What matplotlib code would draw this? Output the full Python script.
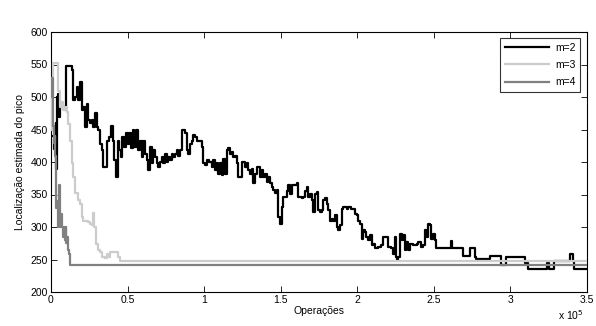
import numpy as np
import matplotlib
matplotlib.use("Agg")
import matplotlib.pyplot as plt

# x in units of 1e5 operations, y = estimated peak location
m2_x = [0.000, 0.020, 0.030, 0.035, 0.040, 0.045, 0.050, 0.060, 0.070, 0.091, 0.098, 0.124, 0.135,
        0.146, 0.157, 0.168, 0.179, 0.189, 0.200, 0.211, 0.222, 0.233, 0.244, 0.255, 0.266, 0.276,
        0.287, 0.298, 0.309, 0.320, 0.331, 0.342, 0.357, 0.368, 0.381, 0.392, 0.403, 0.414, 0.424,
        0.435, 0.446, 0.457, 0.466, 0.477, 0.490, 0.501, 0.512, 0.522, 0.533, 0.544, 0.555, 0.566,
        0.581, 0.592, 0.603, 0.614, 0.625, 0.636, 0.647, 0.657, 0.668, 0.679, 0.690, 0.701, 0.712,
        0.723, 0.734, 0.744, 0.755, 0.766, 0.777, 0.788, 0.799, 0.810, 0.821, 0.831, 0.842, 0.853,
        0.864, 0.875, 0.886, 0.897, 0.908, 0.918, 0.929, 0.940, 0.951, 0.968, 0.984, 0.990, 1.006,
        1.016, 1.034, 1.049, 1.060, 1.071, 1.082, 1.093, 1.104, 1.114, 1.125, 1.136, 1.147, 1.158,
        1.169, 1.180, 1.191, 1.201, 1.212, 1.223, 1.234, 1.245, 1.256, 1.267, 1.277, 1.288, 1.299,
        1.310, 1.321, 1.332, 1.343, 1.353, 1.364, 1.375, 1.386, 1.397, 1.408, 1.419, 1.430, 1.440,
        1.451, 1.462, 1.473, 1.484, 1.495, 1.506, 1.517, 1.539, 1.550, 1.560, 1.571, 1.593, 1.604,
        1.615, 1.636, 1.647, 1.658, 1.669, 1.680, 1.691, 1.702, 1.713, 1.724, 1.734, 1.745, 1.756,
        1.767, 1.778, 1.789, 1.800, 1.810, 1.821, 1.832, 1.843, 1.854, 1.865, 1.876, 1.886, 1.897,
        1.908, 1.930, 1.941, 1.962, 1.973, 1.984, 1.995, 2.006, 2.017, 2.028, 2.039, 2.049, 2.060,
        2.071, 2.082, 2.093, 2.104, 2.114, 2.136, 2.158, 2.169, 2.191, 2.202, 2.223, 2.234, 2.245,
        2.252, 2.260, 2.267, 2.278, 2.289, 2.300, 2.311, 2.321, 2.332, 2.343, 2.365, 2.387, 2.397,
        2.419, 2.430, 2.441, 2.452, 2.463, 2.474, 2.484, 2.495, 2.506, 2.517, 2.604, 2.611, 2.617,
        2.680, 2.691, 2.724, 2.735, 2.756, 2.767, 2.778, 2.869, 2.930, 2.941, 2.963, 2.969, 3.082,
        3.093, 3.115, 3.235, 3.241, 3.252, 3.278, 3.285, 3.385, 3.390, 3.410, 3.415, 3.500]
m2_y = [440, 420, 460, 390, 500, 505, 470, 485, 485, 480, 547, 547, 541,
        495, 500, 516, 495, 523, 480, 485, 454, 490, 465, 460, 465, 454,
        475, 454, 449, 428, 418, 393, 393, 433, 438, 456, 433, 403, 377,
        433, 418, 408, 438, 423, 444, 428, 444, 421, 449, 423, 449, 418,
        433, 408, 433, 413, 403, 387, 423, 398, 418, 408, 398, 393, 400,
        408, 398, 413, 400, 408, 403, 413, 408, 413, 418, 410, 418, 449,
        449, 444, 418, 413, 428, 433, 441, 438, 433, 433, 423, 398, 395,
        403, 400, 393, 403, 387, 398, 382, 398, 380, 405, 382, 418, 421,
        413, 415, 408, 410, 398, 377, 377, 400, 400, 393, 398, 387, 382,
        390, 367, 382, 393, 393, 377, 387, 377, 382, 369, 377, 367, 362,
        357, 352, 357, 316, 305, 331, 346, 356, 364, 351, 364, 364, 367,
        346, 344, 346, 356, 362, 346, 351, 341, 323, 351, 354, 326, 323,
        326, 341, 344, 336, 326, 310, 313, 310, 318, 300, 295, 303, 328,
        331, 328, 331, 328, 328, 320, 318, 310, 305, 282, 295, 292, 285,
        280, 287, 272, 274, 267, 269, 272, 285, 285, 269, 267, 259, 285,
        254, 249, 254, 290, 280, 287, 264, 277, 264, 274, 272, 274, 277,
        269, 272, 295, 285, 305, 303, 282, 290, 280, 267, 267, 279, 267,
        267, 255, 255, 267, 267, 254, 251, 256, 256, 242, 242, 254, 254,
        245, 236, 236, 244, 236, 236, 248, 248, 259, 248, 236, 236]

m3_x = [0.000, 0.004, 0.008, 0.015, 0.037, 0.048, 0.057, 0.067, 0.080, 0.091, 0.102, 0.113,
        0.124, 0.135, 0.146, 0.157, 0.168, 0.179, 0.189, 0.200, 0.211, 0.233, 0.244, 0.255,
        0.266, 0.276, 0.283, 0.292, 0.305, 0.320, 0.331, 0.353, 0.364, 0.375, 0.386, 0.429,
        0.440, 0.451, 3.500]
m3_y = [450, 470, 530, 552, 552, 510, 485, 492, 480, 485, 477, 459,
        433, 398, 377, 352, 352, 341, 336, 315, 310, 310, 308, 305,
        303, 321, 300, 274, 264, 262, 254, 253, 259, 254, 262, 262,
        254, 248, 248]

m4_x = [0.000, 0.004, 0.008, 0.012, 0.016, 0.020, 0.025, 0.028, 0.032, 0.035, 0.040, 0.045,
        0.050, 0.055, 0.058, 0.062, 0.068, 0.072, 0.078, 0.085, 0.090, 0.095, 0.100, 0.105,
        0.110, 0.118, 0.122, 3.500]
m4_y = [500, 520, 530, 490, 455, 430, 440, 410, 395, 330, 340, 300,
        345, 365, 330, 300, 320, 300, 285, 300, 280, 300, 275, 285,
        265, 258, 241, 241]

series_labels = ["m=2", "m=3", "m=4"]
x_ticks = [0, 0.5, 1, 1.5, 2, 2.5, 3, 3.5]
y_ticks = [200, 250, 300, 350, 400, 450, 500, 550, 600]

plt.rcParams['font.family'] = ['Liberation Sans', 'DejaVu Sans']
fs = 7.5

fig = plt.figure(figsize=(5.96, 3.26), dpi=100)
ax = fig.add_axes([51/596, 34/326, 536/596, 260/326])

scale = 1e5
ax.plot(np.array(m2_x) * scale, m2_y, color='#000000', lw=1.6, drawstyle='steps-post', label=series_labels[0], zorder=2)
ax.plot(np.array(m3_x) * scale, m3_y, color='#cccccc', lw=1.6, drawstyle='steps-post', label=series_labels[1], zorder=3)
ax.plot(np.array(m4_x) * scale, m4_y, color='#808080', lw=1.6, drawstyle='steps-post', label=series_labels[2], zorder=4)

ax.set_xlim(0, 3.5 * scale)
ax.set_ylim(200, 600)
ax.set_xticks([t * scale for t in x_ticks])
ax.set_xticklabels([("%g" % t) for t in x_ticks], fontsize=fs)
ax.set_yticks(y_ticks)
ax.set_yticklabels([str(t) for t in y_ticks], fontsize=fs)
ax.tick_params(direction='in', length=4, width=0.6, top=True, right=True, pad=2)
for s in ax.spines.values():
    s.set_linewidth(0.8)

ax.set_xlabel("Operações", fontsize=fs, labelpad=1)
ax.set_ylabel("Localização estimada do pico", fontsize=fs, labelpad=4)
fig.text(584/596, 1 - 320/326, r"x 10$^{5}$", fontsize=fs, ha='right', va='baseline')

leg = ax.legend(loc='upper right', bbox_to_anchor=(580/596, 1 - 38/326), bbox_transform=fig.transFigure,
                fontsize=fs, frameon=True, fancybox=False, edgecolor='black', handlelength=4.2,
                borderpad=0.45, labelspacing=0.7, handletextpad=0.6, borderaxespad=0)
leg.get_frame().set_linewidth(0.8)

fig.savefig("out.png", dpi=100)
